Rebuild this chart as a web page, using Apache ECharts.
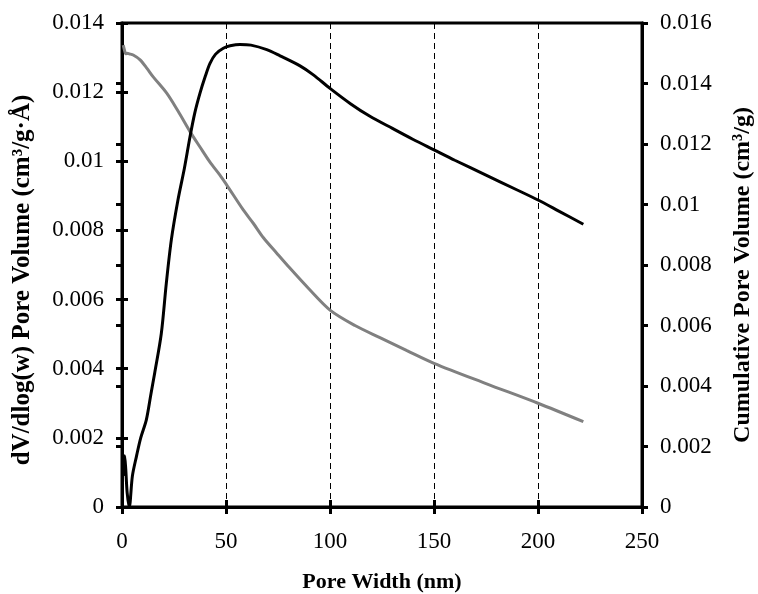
<!DOCTYPE html>
<html>
<head>
<meta charset="utf-8">
<script src="https://cdn.jsdelivr.net/npm/echarts@6/dist/echarts.min.js"></script>
<style>html,body{margin:0;padding:0;background:#fff;}#c{width:758px;height:594px;}</style>
</head>
<body>
<div id="c"></div>
<script>
// dV/dlog(w) pore volume (left axis)
const distWidth = [0.8,1.3,1.8,2.5,3.5,5,7,9,11.7,14,15.7,18.9,21.3,23.7,26.9,30,32.7,35,37.5,40,42.3,45,48.7,52,56.7,62,69.6,76,85.6,92,100,110,119,130,140,150,160,175,190,200,210,221.8];
const distValue = [0.0009,0.00148,0.0011,0.0004,0.0,0.0009,0.00148,0.002,0.00252,0.0033,0.00387,0.00502,0.00647,0.00772,0.00888,0.0098,0.01071,0.0114,0.01197,0.01245,0.01283,0.0131,0.01327,0.01334,0.01338,0.01336,0.01323,0.01305,0.01276,0.0125,0.01211,0.01166,0.01131,0.01095,0.01063,0.01033,0.01003,0.0096,0.00917,0.00888,0.00856,0.00818];
// Cumulative pore volume (right axis)
const cumWidth = [0.6,1.2,1.8,2.4,3.5,5.4,8.7,12,15,21.5,27,32.7,37.5,42.3,47,50.3,58.3,63.1,68,74.4,80,89.6,100,112,124,137,150,175,200,221.8];
const cumValue = [0.01527,0.0151,0.01498,0.015,0.01498,0.01494,0.01478,0.0145,0.01422,0.01368,0.01308,0.01241,0.0119,0.0114,0.01098,0.01065,0.00982,0.00938,0.0089,0.00839,0.00795,0.00723,0.00651,0.006,0.0056,0.00517,0.00475,0.00408,0.00343,0.00282];

const xTicks = {min:0, max:250, interval:50};
const leftTicks = {min:0, max:0.014, interval:0.002};
const rightTicks = {min:0, max:0.016, interval:0.002};

const FONT = '"Liberation Serif", "Times New Roman", serif';
const lbl = {color:'#000', fontFamily:FONT, fontSize:23};
function nameStyle(size, pad){ return {color:'#000', fontFamily:FONT, fontSize:size, fontWeight:'bold', padding:pad || 0}; }

function fmt(v){ return v === 0 ? '0' : String(parseFloat(v.toFixed(4))); }

const chart = echarts.init(document.getElementById('c'), null, {renderer:'canvas'});
chart.setOption({
  animation:false,
  backgroundColor:'#fff',
  grid:{left:122, right:116, top:23, bottom:87, show:true, borderColor:'#000', borderWidth:3, containLabel:false, outerBoundsMode:'none'},
  xAxis:[{
    type:'value', min:xTicks.min, max:xTicks.max, interval:xTicks.interval, position:'bottom',
    name:'Pore Width (nm)', nameLocation:'middle', nameGap:64, nameTextStyle:nameStyle(22),
    axisLine:{show:true, onZero:false, lineStyle:{color:'#000', width:3}},
    axisTick:{show:true, inside:false, length:7, lineStyle:{color:'#000', width:3}},
    axisLabel:Object.assign({margin:23, formatter:fmt}, lbl),
    splitLine:{show:true, lineStyle:{color:'#000', width:1, type:[6,4]}}
  },{
    type:'value', min:xTicks.min, max:xTicks.max, interval:xTicks.interval, position:'bottom',
    axisLine:{show:false}, axisTick:{show:true, inside:true, length:7, lineStyle:{color:'#000', width:3}},
    axisLabel:{show:false}, splitLine:{show:false}
  }],
  yAxis:[{
    type:'value', min:leftTicks.min, max:leftTicks.max, interval:leftTicks.interval, position:'left',
    name:'dV/dlog(w) Pore Volume (cm³/g·Å)', nameLocation:'middle', nameGap:87, nameRotate:90, nameTextStyle:nameStyle(25, [0,30,0,0]),
    axisLine:{show:true, onZero:false, lineStyle:{color:'#000', width:3}},
    axisTick:{show:true, inside:false, length:6, lineStyle:{color:'#000', width:3}},
    axisLabel:Object.assign({margin:18, formatter:fmt}, lbl),
    splitLine:{show:false}
  },{
    type:'value', min:rightTicks.min, max:rightTicks.max, interval:rightTicks.interval, position:'right',
    name:'Cumulative Pore Volume (cm³/g)', nameLocation:'middle', nameGap:89, nameRotate:90, nameTextStyle:nameStyle(24, [0,20,0,0]),
    axisLine:{show:true, onZero:false, lineStyle:{color:'#000', width:3}},
    axisTick:{show:true, inside:false, length:6, lineStyle:{color:'#000', width:3}},
    axisLabel:Object.assign({margin:18, formatter:fmt}, lbl),
    splitLine:{show:false}
  },{
    type:'value', min:leftTicks.min, max:leftTicks.max, interval:leftTicks.interval, position:'left',
    axisLine:{show:false}, axisTick:{show:true, inside:true, length:6, lineStyle:{color:'#000', width:3}},
    axisLabel:{show:false}, splitLine:{show:false}
  },{
    type:'value', min:rightTicks.min, max:rightTicks.max, interval:rightTicks.interval, position:'right',
    axisLine:{show:false}, axisTick:{show:true, inside:true, length:6, lineStyle:{color:'#000', width:3}},
    axisLabel:{show:false}, splitLine:{show:false}
  }],
  series:[{
    name:'Cumulative Pore Volume', type:'line', xAxisIndex:0, yAxisIndex:1,
    data:cumWidth.map((w,i)=>[w,cumValue[i]]),
    showSymbol:false, smooth:0.3, lineStyle:{color:'#808080', width:3}, itemStyle:{color:'#808080'}
  },{
    name:'dV/dlog(w) Pore Volume', type:'line', xAxisIndex:0, yAxisIndex:0,
    data:distWidth.map((w,i)=>[w,distValue[i]]),
    showSymbol:false, smooth:0.3, lineStyle:{color:'#000', width:3}, itemStyle:{color:'#000'}
  }]
});
</script>
</body>
</html>
